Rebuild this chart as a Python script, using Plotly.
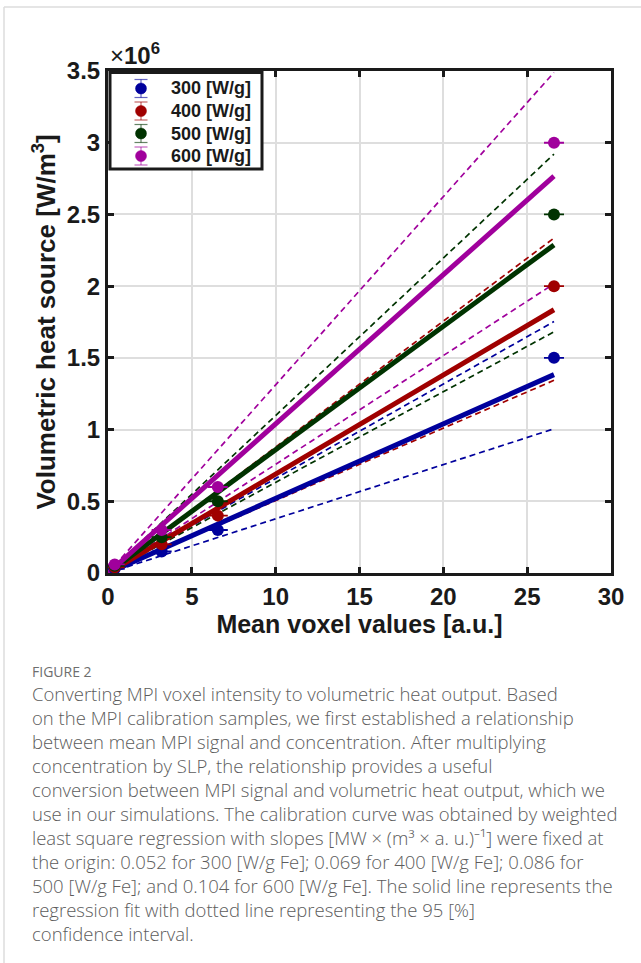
import plotly.graph_objects as go

# ---------------- data ----------------
series_names = ["300 [W/g]", "400 [W/g]", "500 [W/g]", "600 [W/g]"]
series_colors = ["#00009C", "#A00000", "#003300", "#A0009C"]
x_points = [0.4, 3.2, 6.55, 26.6]
y_300 = [0.03, 0.15, 0.30, 1.50]
y_400 = [0.04, 0.20, 0.40, 2.00]
y_500 = [0.05, 0.25, 0.50, 2.50]
y_600 = [0.06, 0.30, 0.60, 3.00]
y_err = [0.002, 0.002, 0.002, 0.002]
fit_slopes = [0.052, 0.069, 0.086, 0.104]          # [1e6 W/m^3 per a.u.]
ci_lower_slopes = [0.0378, 0.0505, 0.0632, 0.0758]
ci_upper_slopes = [0.0659, 0.0878, 0.1098, 0.1312]
fit_x_range = [0.0, 26.6]
x_ticks = [0, 5, 10, 15, 20, 25, 30]
y_ticks = [0, 0.5, 1, 1.5, 2, 2.5, 3, 3.5]
y_tick_labels = ["0", "0.5", "1", "1.5", "2", "2.5", "3", "3.5"]

caption_head = "FIGURE 2"
caption_lines = [
    "Converting MPI voxel intensity to volumetric heat output. Based",
    "on the MPI calibration samples, we first established a relationship",
    "between mean MPI signal and concentration. After multiplying",
    "concentration by SLP, the relationship provides a useful",
    "conversion between MPI signal and volumetric heat output, which we",
    "use in our simulations. The calibration curve was obtained by weighted",
    "least square regression with slopes [MW × (m³ × a. u.)⁻¹] were fixed at",
    "the origin: 0.052 for 300 [W/g Fe]; 0.069 for 400 [W/g Fe]; 0.086 for",
    "500 [W/g Fe]; and 0.104 for 600 [W/g Fe]. The solid line represents the",
    "regression fit with dotted line representing the 95 [%]",
    "confidence interval.",
]

y_series = [y_300, y_400, y_500, y_600]

# ---------------- layout geometry ----------------
W, H = 641, 963
L, R, T, B = 108, 30, 71, 390
PW, PH = W - L - R, H - T - B


def px_x(p):
    return (p - L) / PW


def px_y(p):
    return 1 - (p - T) / PH


fig = go.Figure()
FONT = "Liberation Sans, Arial, sans-serif"
CAP_FONT = "Open Sans, Noto Sans, sans-serif"
INK = "#1a1a1a"

# dashed CI lines
for i in range(4):
    for s in (ci_lower_slopes[i], ci_upper_slopes[i]):
        fig.add_trace(go.Scatter(
            x=fit_x_range, y=[s * v for v in fit_x_range], mode="lines",
            line=dict(color=series_colors[i], width=1.7, dash="6px,4px"),
            showlegend=False, hoverinfo="skip"))

# solid fit lines
for i in range(4):
    fig.add_trace(go.Scatter(
        x=fit_x_range, y=[fit_slopes[i] * v for v in fit_x_range], mode="lines",
        line=dict(color=series_colors[i], width=5),
        showlegend=False, hoverinfo="skip"))

# data points
for i in range(4):
    fig.add_trace(go.Scatter(
        x=x_points, y=y_series[i], mode="markers", name=series_names[i],
        marker=dict(color=series_colors[i], size=12),
        error_y=dict(type="data", array=y_err, color=series_colors[i],
                     thickness=1.3, width=10),
        showlegend=False))

axis_common = dict(
    showline=True, linewidth=3, linecolor=INK, mirror="ticks",
    ticks="inside", ticklen=6, tickwidth=2.5, tickcolor=INK,
    showgrid=True, gridcolor="#dedede", gridwidth=2, zeroline=False,
    tickfont=dict(family=FONT, size=24, color=INK, weight="bold"),
)

fig.update_xaxes(range=[0, 30], tickvals=x_ticks,
                 title=dict(text="Mean voxel values [a.u.]", standoff=7,
                            font=dict(family=FONT, size=25, color=INK, weight="bold")),
                 **axis_common)
fig.update_yaxes(range=[0, 3.5], tickvals=y_ticks, ticktext=y_tick_labels,
                 title=dict(text="Volumetric heat source [W/m<sup>3</sup>]", standoff=4,
                            font=dict(family=FONT, size=26, color=INK, weight="bold")),
                 **axis_common)

annotations = [
    dict(x=0.0, y=1.0, xref="paper", yref="paper", xanchor="left", yanchor="bottom",
         text="×<b>10<sup>6</sup></b>", showarrow=False,
         font=dict(family=FONT, size=24, color=INK)),
    dict(x=px_x(30), y=px_y(671), xref="paper", yref="paper", xanchor="left", yanchor="middle",
         text=caption_head, showarrow=False,
         font=dict(family=CAP_FONT, size=14, color="#6e6e6e")),
]
for k, line in enumerate(caption_lines):
    annotations.append(dict(
        x=px_x(30), y=px_y(693 + 24 * k), xref="paper", yref="paper",
        xanchor="left", yanchor="middle", text=line, showarrow=False,
        font=dict(family=CAP_FONT, size=18.5, color="#5c5c5c", weight=300)))

shapes = [
    dict(type="line", xref="paper", yref="paper", x0=px_x(4), x1=px_x(641),
         y0=px_y(7), y1=px_y(7), line=dict(color="#dcdcdc", width=1.5)),
    dict(type="line", xref="paper", yref="paper", x0=px_x(4), x1=px_x(4),
         y0=px_y(7), y1=px_y(963), line=dict(color="#dcdcdc", width=1.5)),
]

# legend box (drawn by hand so the row spacing matches the reference)
LEG_X0, LEG_X1, LEG_Y0, LEG_Y1 = 110, 262, 72.5, 169
shapes.append(dict(type="rect", xref="paper", yref="paper", layer="above",
                   x0=px_x(LEG_X0), x1=px_x(LEG_X1), y0=px_y(LEG_Y1), y1=px_y(LEG_Y0),
                   fillcolor="white", line=dict(color=INK, width=3)))
row_y = [88.5, 111, 133.5, 156]
sym_x = 141
for i in range(4):
    cy = row_y[i]
    c = series_colors[i]
    # error bar stem and caps
    shapes.append(dict(type="line", xref="paper", yref="paper", layer="above",
                       x0=px_x(sym_x), x1=px_x(sym_x), y0=px_y(cy - 9), y1=px_y(cy + 9),
                       line=dict(color=c, width=1.2), opacity=0.6))
    for dy in (-9, 9):
        shapes.append(dict(type="line", xref="paper", yref="paper", layer="above",
                           x0=px_x(sym_x - 6.5), x1=px_x(sym_x + 6.5), y0=px_y(cy + dy), y1=px_y(cy + dy),
                           line=dict(color=c, width=1.2), opacity=0.6))
    shapes.append(dict(type="circle", xref="paper", yref="paper", layer="above",
                       x0=px_x(sym_x - 5.5), x1=px_x(sym_x + 5.5),
                       y0=px_y(cy + 5.5), y1=px_y(cy - 5.5),
                       fillcolor=c, line=dict(color=c, width=0.5)))
    annotations.append(dict(x=px_x(169), y=px_y(cy), xref="paper", yref="paper",
                            xanchor="left", yanchor="middle", text=series_names[i],
                            showarrow=False,
                            font=dict(family=FONT, size=18, color=INK, weight="bold")))

fig.update_layout(
    width=W, height=H, margin=dict(l=L, r=R, t=T, b=B, autoexpand=False),
    paper_bgcolor="white", plot_bgcolor="white",
    showlegend=False,
    annotations=annotations, shapes=shapes,
)

fig.write_html("out.html", config={"displayModeBar": False},
               post_script="document.body.style.margin='0px';")
